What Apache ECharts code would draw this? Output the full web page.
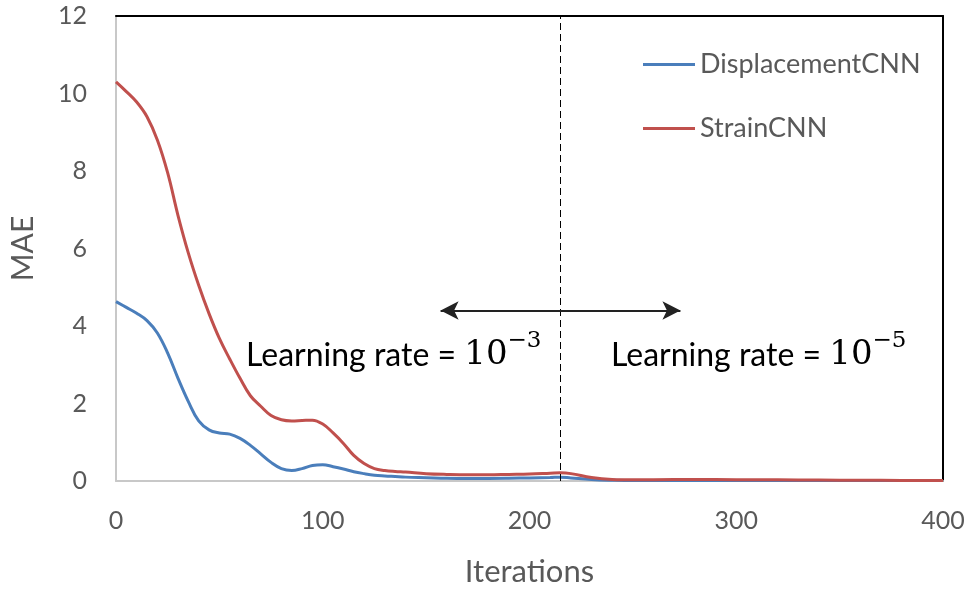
<!DOCTYPE html>
<html>
<head>
<meta charset="utf-8">
<script src="https://cdn.jsdelivr.net/npm/echarts@6/dist/echarts.min.js"></script>
<style>html,body{margin:0;padding:0;background:#fff}#c{width:971px;height:592px}</style>
</head>
<body>
<div id="c"></div>
<script>
var iterations = [0,5,10,15,20,25,30,35,40,45,50,55,60,65,70,75,80,85,90,95,100,105,110,115,120,125,130,135,140,150,160,170,180,190,200,210,215,220,230,240,250,260,280,300,320,340,360,380,400];
var displacementCNN = [4.63,4.48,4.33,4.14,3.82,3.3,2.65,2.05,1.55,1.32,1.24,1.21,1.1,0.92,0.7,0.48,0.32,0.27,0.32,0.4,0.42,0.37,0.31,0.24,0.19,0.15,0.13,0.115,0.1,0.085,0.07,0.065,0.065,0.07,0.08,0.09,0.1,0.08,0.04,0.02,0.01,0.01,0.01,0.01,0.01,0.01,0.01,0.01,0.01];
var strainCNN = [10.3,10.05,9.78,9.4,8.8,7.95,6.85,5.88,5.05,4.32,3.68,3.15,2.65,2.2,1.93,1.69,1.58,1.55,1.56,1.57,1.47,1.24,0.97,0.66,0.45,0.32,0.27,0.245,0.23,0.19,0.17,0.16,0.16,0.17,0.18,0.2,0.21,0.19,0.09,0.04,0.03,0.035,0.04,0.035,0.03,0.025,0.02,0.015,0.01];
var yTicks = [0,2,4,6,8,10,12];
var xTicks = [0,100,200,300,400];
var lrSwitch = 215;
var arrowSpan = [157, 273];
var arrowY = 4.4;

function pairs(xs, ys){ return xs.map(function(x,i){ return [x, ys[i]]; }); }

var chart = echarts.init(document.getElementById('c'));
var labelColor = '#595959';
var font = 'Lato, "Open Sans", sans-serif';
var serif = '"DejaVu Serif", serif';
var rich = {
  a: { fontFamily: font, fontSize: 32, fill: '#000', lineHeight: 42, verticalAlign: 'bottom' },
  b: { fontFamily: serif, fontSize: 34, fill: '#000', lineHeight: 42, verticalAlign: 'bottom' },
  s: { fontFamily: serif, fontSize: 23, fill: '#000', lineHeight: 20, verticalAlign: 'top' }
};
chart.setOption({
  animation: false,
  grid: { left: 116, right: 28, top: 16, bottom: 111 },
  legend: {
    orient: 'vertical', left: 638, top: 46, itemGap: 37,
    itemWidth: 52, itemHeight: 3, icon: 'rect',
    textStyle: { fontFamily: font, fontSize: 27, color: labelColor },
    data: ['DisplacementCNN', 'StrainCNN']
  },
  xAxis: [{
    type: 'value', min: xTicks[0], max: xTicks[xTicks.length-1], interval: 100,
    name: 'Iterations', nameLocation: 'middle', nameGap: 75,
    nameTextStyle: { fontFamily: font, fontSize: 31, color: labelColor },
    axisLine: { show: true, onZero: false, lineStyle: { color: '#c8c8c8', width: 2 } },
    axisTick: { show: false }, splitLine: { show: false },
    axisLabel: { fontFamily: font, fontSize: 25, color: labelColor, margin: 27 }
  }, {
    type: 'value', position: 'top', min: 0, max: 400,
    axisLine: { show: true, onZero: false, lineStyle: { color: '#000', width: 2 } },
    axisTick: { show: false }, axisLabel: { show: false }, splitLine: { show: false }
  }],
  yAxis: [{
    type: 'value', min: yTicks[0], max: yTicks[yTicks.length-1], interval: 2,
    name: 'MAE', nameLocation: 'middle', nameGap: 78,
    nameTextStyle: { fontFamily: font, fontSize: 30, color: labelColor },
    axisLine: { show: true, onZero: false, lineStyle: { color: '#c8c8c8', width: 2 } },
    axisTick: { show: false }, splitLine: { show: false },
    axisLabel: { fontFamily: font, fontSize: 25, color: labelColor, margin: 29 }
  }, {
    type: 'value', position: 'right', min: 0, max: 12,
    axisLine: { show: true, onZero: false, lineStyle: { color: '#000', width: 2 } },
    axisTick: { show: false }, axisLabel: { show: false }, splitLine: { show: false }
  }],
  series: [{
    name: 'DisplacementCNN', type: 'line', smooth: 0.4, symbol: 'none',
    data: pairs(iterations, displacementCNN), z: 3,
    lineStyle: { color: '#4a7ebb', width: 3 }, itemStyle: { color: '#4a7ebb' }
  }, {
    name: 'StrainCNN', type: 'line', smooth: 0.4, symbol: 'none',
    data: pairs(iterations, strainCNN), z: 4,
    lineStyle: { color: '#c0504d', width: 3 }, itemStyle: { color: '#c0504d' },
    markLine: {
      silent: true, animation: false, label: { show: false },
      data: [
        [{ coord: [lrSwitch, 0], symbol: 'none', lineStyle: { type: [7,4], color: '#000', width: 1 } },
         { coord: [lrSwitch, 12], symbol: 'none' }],
        [{ coord: [arrowSpan[0], arrowY], symbol: 'arrow', symbolSize: [14, 18], lineStyle: { type: 'solid', color: '#222', width: 2 } },
         { coord: [arrowSpan[1], arrowY], symbol: 'arrow', symbolSize: [14, 18] }]
      ]
    }
  }],
  graphic: [{
    type: 'text', left: 246, top: 330,
    style: { text: '{a|Learning rate = }{b|10}{s|−3}', rich: rich }
  }, {
    type: 'text', left: 611, top: 330,
    style: { text: '{a|Learning rate = }{b|10}{s|−5}', rich: rich }
  }]
});
</script>
</body>
</html>
